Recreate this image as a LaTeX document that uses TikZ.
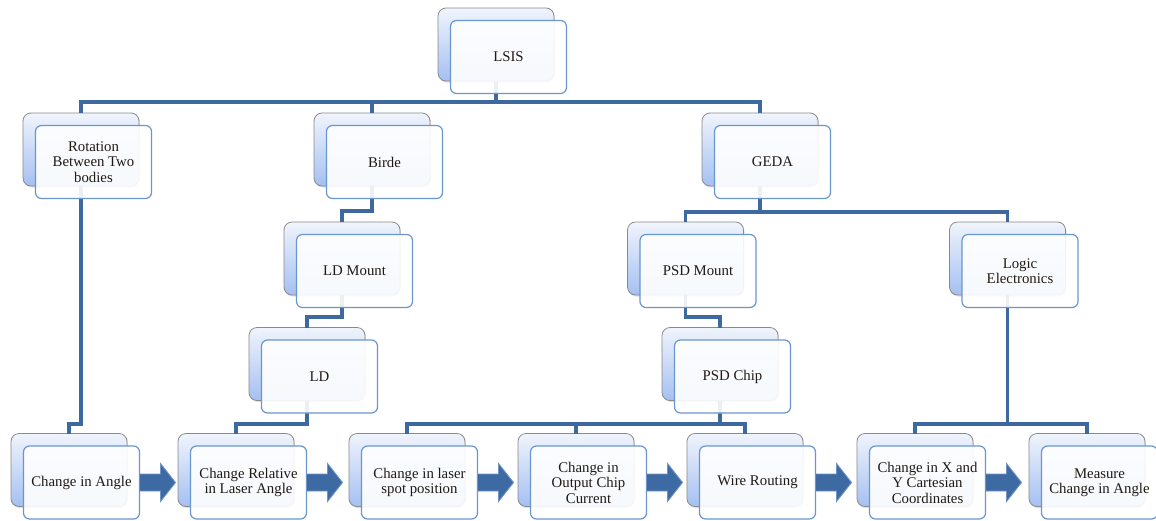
\documentclass[tikz,border=0pt]{standalone}
\usepackage{fontspec}
\setmainfont{Liberation Serif}
\usetikzlibrary{shadows}

\definecolor{connblue}{RGB}{62,104,160}
\definecolor{frontedge}{RGB}{106,150,206}
\definecolor{backtop}{RGB}{240,244,252}
\definecolor{backbot}{RGB}{164,192,242}
\definecolor{backedge}{RGB}{138,138,138}
\definecolor{labeltext}{RGB}{32,26,20}
\definecolor{arrowfill}{RGB}{62,106,163}
\definecolor{arrowedge}{RGB}{112,148,196}

\tikzset{
  backbox/.style={rectangle, rounded corners=8pt, minimum width=116pt, minimum height=73pt,
    inner sep=0pt, outer sep=0pt, draw=backedge, line width=0.8pt,
    top color=backtop, bottom color=backbot,
    drop shadow={shadow xshift=1pt, shadow yshift=-1.5pt, opacity=0.25}},
  frontbox/.style={rectangle, rounded corners=6pt, minimum width=116pt, minimum height=73pt,
    inner sep=2pt, outer sep=0pt, draw=frontedge, line width=1.2pt, fill=white,
    fill opacity=0.9, text opacity=1, text=labeltext, align=center,
    font=\fontsize{14.8}{15.5}\selectfont},
  conn/.style={draw=connblue, line width=3.5pt},
  flowarrow/.style={fill=arrowfill, draw=arrowedge, line width=0.9pt, line join=miter},
  fshift/.style={shift={(12.5,12.5)}}
}

% block arrow leaving the right side of a node
\newcommand\blockarrow[1]{%
  \path[flowarrow] (#1.east) ++(0,-8.5) -- ++(21,0) -- ++(0,-10.5) -- ++(15,19)
    -- ++(-15,19) -- ++(0,-10.5) -- ++(-21,0) -- cycle;}

\begin{document}
\begin{tikzpicture}[x=1pt,y=-1pt]
\fill[white] (0,0) rectangle (1156,520);
\useasboundingbox (0,0) rectangle (1156,520);

% back plates
\node[backbox] (lsisb)  at (496,44.5) {};
\node[backbox] (rotb)   at (81,149.5) {};
\node[backbox] (birdeb) at (372,149.5) {};
\node[backbox] (gedab)  at (760,149.5) {};
\node[backbox] (ldmb)   at (342,258.5) {};
\node[backbox] (psdmb)  at (685.5,258.5) {};
\node[backbox] (logicb) at (1007.5,258.5) {};
\node[backbox] (ldb)    at (307,364) {};
\node[backbox] (psdcb)  at (720,364) {};
\node[backbox] (angb)   at (69,470) {};
\node[backbox] (relb)   at (236,470) {};
\node[backbox] (spotb)  at (407,470) {};
\node[backbox] (curb)   at (576,470) {};
\node[backbox] (wireb)  at (745,470) {};
\node[backbox] (xyb)    at (915,470) {};
\node[backbox] (measb)  at (1087,470) {};

% hierarchy connectors
\draw[conn] (lsisb.south) -- (lsisb.south |- 0,102) -| (rotb.north);
\draw[conn] (lsisb.south |- 0,102) -| (birdeb.north);
\draw[conn] (lsisb.south |- 0,102) -| (gedab.north);

\draw[conn] (rotb.south) -- (rotb.south |- 0,424) -| (angb.north);

\draw[conn] (birdeb.south) -- (birdeb.south |- 0,211) -| (ldmb.north);
\draw[conn] (ldmb.south) -- (ldmb.south |- 0,317) -| (ldb.north);
\draw[conn] (ldb.south) -- (ldb.south |- 0,424) -| (relb.north);

\draw[conn] (gedab.south) -- (gedab.south |- 0,212) -| (psdmb.north);
\draw[conn] (gedab.south |- 0,212) -| (logicb.north);
\draw[conn] (psdmb.south) -- (psdmb.south |- 0,317) -| (psdcb.north);

\draw[conn] (psdcb.south) -- (psdcb.south |- 0,424) -| (spotb.north);
\draw[conn] (psdcb.south |- 0,424) -| (curb.north);
\draw[conn] (psdcb.south |- 0,424) -| (wireb.north);

\draw[conn] (logicb.south) -- (logicb.south |- 0,424) -| (xyb.north);
\draw[conn] (logicb.south |- 0,424) -| (measb.north);

% front cards with the labels
\node[frontbox, fshift] (lsis)  at (lsisb.center)  {LSIS};
\node[frontbox, fshift] (rot)   at (rotb.center)   {Rotation\\Between Two\\bodies};
\node[frontbox, fshift] (birde) at (birdeb.center) {Birde};
\node[frontbox, fshift] (geda)  at (gedab.center)  {GEDA};
\node[frontbox, fshift] (ldm)   at (ldmb.center)   {LD Mount};
\node[frontbox, fshift] (psdm)  at (psdmb.center)  {PSD Mount};
\node[frontbox, fshift] (logic) at (logicb.center) {Logic\\Electronics};
\node[frontbox, fshift] (ld)    at (ldb.center)    {LD};
\node[frontbox, fshift] (psdc)  at (psdcb.center)  {PSD Chip};
\node[frontbox, fshift] (ang)   at (angb.center)   {Change in Angle};
\node[frontbox, fshift] (rel)   at (relb.center)   {Change Relative\\in Laser Angle};
\node[frontbox, fshift] (spot)  at (spotb.center)  {Change in laser\\spot position};
\node[frontbox, fshift] (cur)   at (curb.center)   {Change in\\Output Chip\\Current};
\node[frontbox, fshift] (wire)  at (wireb.center)  {Wire Routing};
\node[frontbox, fshift] (xy)    at (xyb.center)    {Change in X and\\Y Cartesian\\Coordinates};
\node[frontbox, fshift] (meas)  at (measb.center)  {Measure\\Change in Angle};

% process arrows along the bottom row
\blockarrow{ang}
\blockarrow{rel}
\blockarrow{spot}
\blockarrow{cur}
\blockarrow{wire}
\blockarrow{xy}
\end{tikzpicture}
\end{document}
